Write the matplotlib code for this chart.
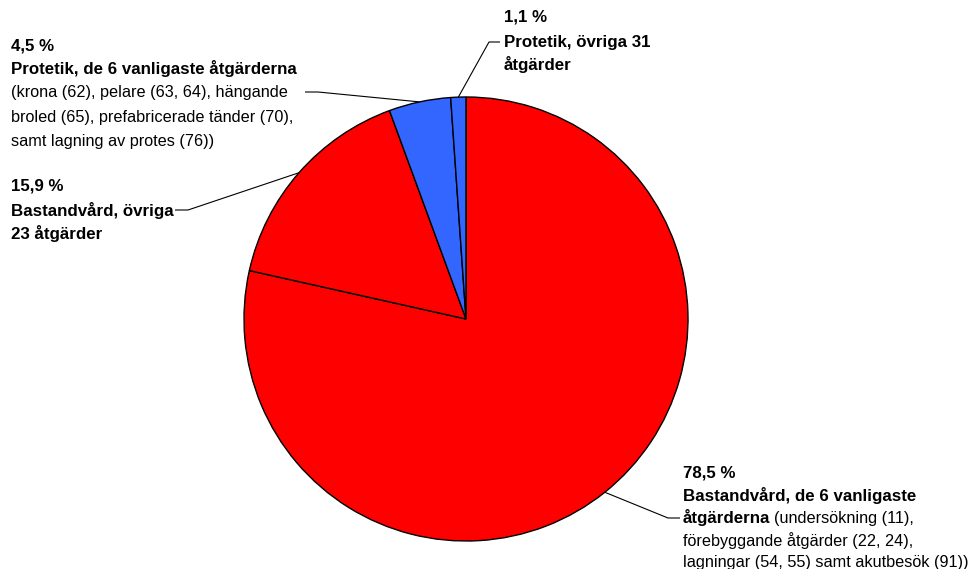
import matplotlib
matplotlib.use("Agg")
import matplotlib.pyplot as plt
import numpy as np

plt.rcParams['font.family'] = ['Liberation Sans', 'DejaVu Sans']

# Data
categories = [
    "Bastandvård, de 6 vanligaste åtgärderna",
    "Bastandvård, övriga 23 åtgärder",
    "Protetik, de 6 vanligaste åtgärderna",
    "Protetik, övriga 31 åtgärder",
]
values = [78.5, 15.9, 4.5, 1.1]
pct_labels = ["78,5 %", "15,9 %", "4,5 %", "1,1 %"]
colors = ["#FF0000", "#FF0000", "#3366FF", "#3366FF"]

W, H = 970, 569
fig = plt.figure(figsize=(W / 100, H / 100), dpi=100)
ax = fig.add_axes([0, 0, 1, 1])

cx, cy, R = 466, H - 319, 222
wedges, _ = ax.pie(values, colors=colors, startangle=90, counterclock=False,
                   center=(cx, cy), radius=R, frame=True,
                   wedgeprops=dict(edgecolor='black', linewidth=1.0))
ax.set_xlim(0, W)
ax.set_ylim(0, H)
ax.set_aspect('equal')
ax.axis('off')

FS_B = 12.2
FS_R = 11.7

def Y(y):
    return H - y

def edge_point(i):
    w = wedges[i]
    ang = np.deg2rad((w.theta1 + w.theta2) / 2)
    return cx + R * np.cos(ang), cy + R * np.sin(ang)

def leader(pts):
    xs = [p[0] for p in pts]
    ys = [p[1] for p in pts]
    ax.plot(xs, ys, color='black', lw=0.8, solid_capstyle='butt')

def txt(x, y, s, bold=False):
    return ax.text(x, Y(y), s, fontsize=FS_B if bold else FS_R,
                   fontweight='bold' if bold else 'normal',
                   ha='left', va='center', color='black')

# 1.1 %
txt(504, 17, pct_labels[3], True)
txt(504, 42, "Protetik, övriga 31", True)
txt(504, 64, "åtgärder", True)
ex, ey = edge_point(3)
leader([(ex, ey), (489, Y(42)), (500, Y(42))])

# 4.5 %
txt(11, 46, pct_labels[2], True)
txt(11, 68, "Protetik, de 6 vanligaste åtgärderna", True)
txt(11, 92, "(krona (62), pelare (63, 64), hängande")
txt(11, 117, "broled (65), prefabricerade tänder (70),")
txt(11, 141, "samt lagning av protes (76))")
ex, ey = edge_point(2)
leader([(305, Y(92)), (318, Y(92)), (ex, ey)])

# 15.9 %
txt(11, 186, pct_labels[1], True)
txt(11, 210, "Bastandvård, övriga", True)
txt(11, 233, "23 åtgärder", True)
ex, ey = edge_point(1)
leader([(175, Y(210)), (188, Y(210)), (ex, ey)])

# 78.5 %
txt(683, 473, pct_labels[0], True)
txt(683, 496, "Bastandvård, de 6 vanligaste", True)
t1 = txt(683, 518, "åtgärderna", True)
fig.canvas.draw()
bb = t1.get_window_extent()
inv = ax.transData.inverted()
x_end = inv.transform((bb.x1, bb.y0))[0]
txt(x_end + 4, 518, "(undersökning (11),")
txt(683, 541, "förebyggande åtgärder (22, 24),")
txt(683, 563, "lagningar (54, 55) samt akutbesök (91))")
ex, ey = edge_point(0)
leader([(ex, ey), (668, Y(518)), (680, Y(518))])

fig.savefig("out.png", dpi=100)
